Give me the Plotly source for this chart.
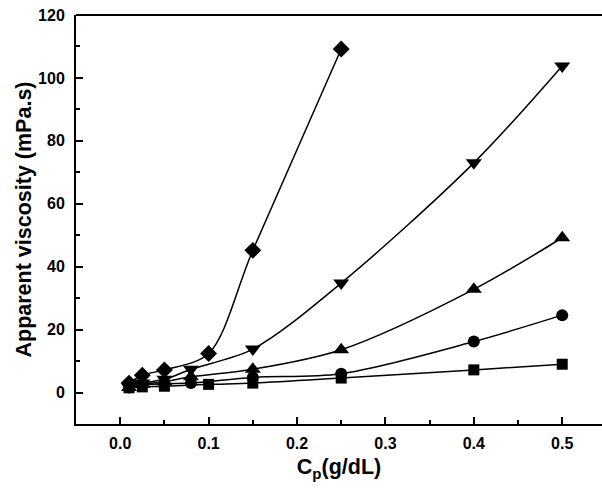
import plotly.graph_objects as go

# Data (Cp in g/dL, apparent viscosity in mPa.s)
x_diamond = [0.01, 0.025, 0.05, 0.1, 0.15, 0.25]
y_diamond = [3.0, 5.5, 7.2, 12.4, 45.2, 109.2]

x_invtri = [0.01, 0.025, 0.05, 0.08, 0.15, 0.25, 0.4, 0.5]
y_invtri = [1.8, 3.0, 4.2, 7.4, 13.8, 34.8, 73.0, 103.8]

x_tri = [0.01, 0.025, 0.05, 0.08, 0.15, 0.25, 0.4, 0.5]
y_tri = [1.6, 2.6, 3.4, 5.0, 7.4, 13.6, 32.8, 49.2]

x_circle = [0.01, 0.025, 0.05, 0.08, 0.15, 0.25, 0.4, 0.5]
y_circle = [2.0, 2.4, 2.8, 3.0, 4.8, 6.0, 16.2, 24.6]

x_square = [0.01, 0.025, 0.05, 0.1, 0.15, 0.25, 0.4, 0.5]
y_square = [1.5, 1.8, 2.0, 2.6, 3.0, 4.6, 7.2, 9.0]

x_ticks = [0.0, 0.1, 0.2, 0.3, 0.4, 0.5]
y_ticks = [0, 20, 40, 60, 80, 100, 120]

series = [
    (x_square, y_square, "square", 11),
    (x_circle, y_circle, "circle", 12),
    (x_tri, y_tri, "triangle-up", 14),
    (x_invtri, y_invtri, "triangle-down", 14),
    (x_diamond, y_diamond, "diamond", 13),
]

fig = go.Figure()
for xs, ys, sym, sz in series:
    fig.add_trace(go.Scatter(
        x=xs, y=ys, mode="lines+markers",
        line=dict(color="black", width=1.5, shape="spline", smoothing=0.9),
        marker=dict(symbol=sym, size=sz, color="black", line=dict(width=0)),
        showlegend=False,
    ))

font_family = "Liberation Sans, Arial, sans-serif"

fig.update_layout(
    width=602, height=491,
    margin=dict(l=76, r=0, t=15, b=67),
    paper_bgcolor="white", plot_bgcolor="white",
    font=dict(family=font_family, color="black"),
    shapes=[dict(type="line", xref="paper", yref="paper", x0=0, x1=1, y0=1, y1=1,
                 line=dict(color="black", width=2))],
)
fig.update_xaxes(
    range=[-0.05, 0.545], showgrid=False, zeroline=False,
    showline=True, linecolor="black", linewidth=2,
    tickvals=x_ticks, ticktext=[f"{v:.1f}" for v in x_ticks],
    ticks="inside", ticklen=7, tickwidth=2, tickcolor="black",
    minor=dict(ticks="inside", ticklen=4, tickwidth=2, tickcolor="black", dtick=0.05, tick0=0.0),
    tickfont=dict(size=16, family=font_family, weight="bold"),
    ticklabelstandoff=4,
    title=dict(text="C<sub>p</sub>(g/dL)", font=dict(size=21.5, family=font_family, weight="bold"), standoff=8),
)
fig.update_yaxes(
    range=[-10, 120], showgrid=False, zeroline=False,
    showline=True, linecolor="black", linewidth=2,
    tickvals=y_ticks, ticktext=[str(v) for v in y_ticks],
    ticks="inside", ticklen=7, tickwidth=2, tickcolor="black",
    minor=dict(ticks="inside", ticklen=4, tickwidth=2, tickcolor="black", dtick=10, tick0=0),
    tickfont=dict(size=16, family=font_family, weight="bold"),
    ticklabelstandoff=6,
    title=dict(text="Apparent viscosity (mPa.s)", font=dict(size=21.5, family=font_family, weight="bold"), standoff=1),
)

fig.write_html("out.html")
